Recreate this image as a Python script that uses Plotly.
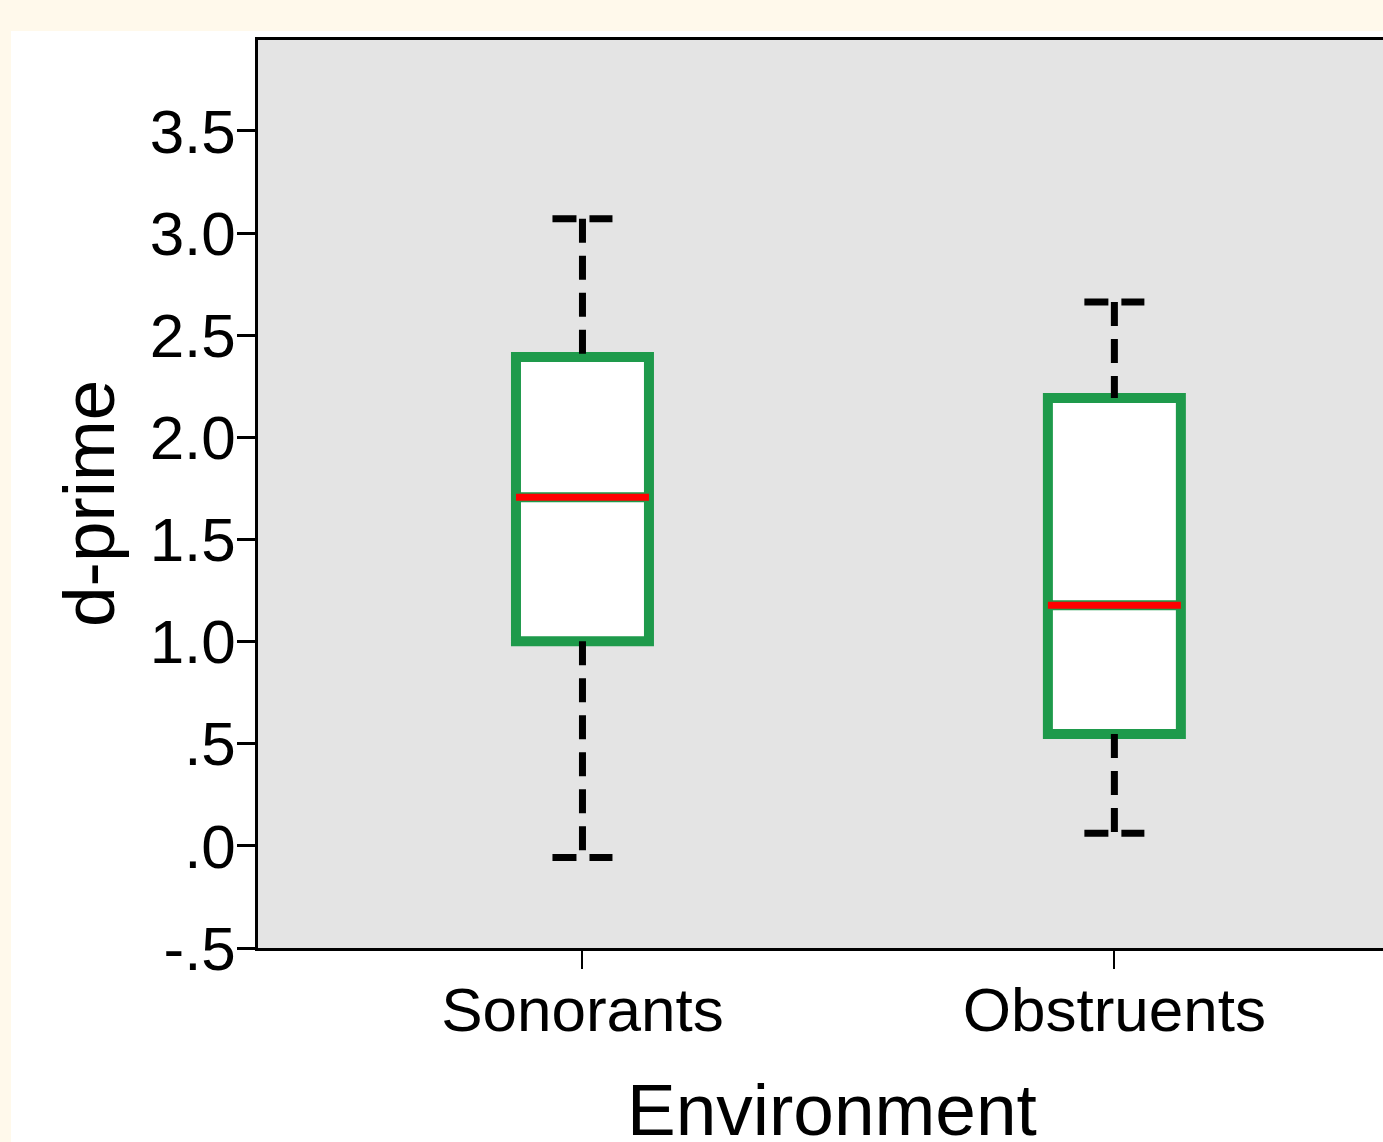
import plotly.graph_objects as go

# ---- data ----
categories = ["Sonorants", "Obstruents"]
lower_whisker = [-0.057, 0.062]
q1_values = [1.002, 0.547]
median_values = [1.706, 1.178]
q3_values = [2.393, 2.192]
upper_whisker = [3.070, 2.662]

y_tick_values = [-0.5, 0.0, 0.5, 1.0, 1.5, 2.0, 2.5, 3.0, 3.5]
y_tick_labels = ["-.5", ".0", ".5", "1.0", "1.5", "2.0", "2.5", "3.0", "3.5"]

x_title = "Environment"
y_title = "d-prime"

# ---- style ----
FONT = "Liberation Sans, Arial, sans-serif"
GREEN = "#1e9a4b"
RED = "#ff0000"
GRAY = "#e4e4e4"
CREAM = "#fff9eb"
BOX_W = 0.25
CAP_HALF = 0.0564

positions = list(range(len(categories)))

fig = go.Figure()

# whiskers (dashed black) and caps
for i, pos in enumerate(positions):
    for ya, yb in ((q1_values[i], lower_whisker[i]), (upper_whisker[i], q3_values[i])):
        fig.add_trace(go.Scatter(
            x=[pos, pos], y=[ya, yb], mode="lines",
            line=dict(color="black", width=7, dash="24px,13px"),
            showlegend=False, hoverinfo="skip"))
    for yc in (lower_whisker[i], upper_whisker[i]):
        fig.add_trace(go.Scatter(
            x=[pos - CAP_HALF, pos + CAP_HALF], y=[yc, yc], mode="lines",
            line=dict(color="black", width=7, dash="24px,13px"),
            showlegend=False, hoverinfo="skip"))

# boxes
for i, pos in enumerate(positions):
    fig.add_trace(go.Box(
        x=[pos], q1=[q1_values[i]], median=[median_values[i]], q3=[q3_values[i]],
        lowerfence=[q1_values[i]], upperfence=[q3_values[i]],
        width=BOX_W, whiskerwidth=0,
        fillcolor="white", line=dict(color=GREEN, width=10),
        showlegend=False, hoverinfo="skip", name=categories[i]))

# medians (red)
for i, pos in enumerate(positions):
    fig.add_trace(go.Scatter(
        x=[pos - BOX_W / 2, pos + BOX_W / 2], y=[median_values[i], median_values[i]],
        mode="lines", line=dict(color=RED, width=7),
        showlegend=False, hoverinfo="skip"))

W, H = 1383, 1142
ml, mr, mt, mb = 258, 0, 40, 194
pw, ph = W - ml - mr, H - mt - mb

def px(xp):
    return (xp - ml) / pw

def py(yp):
    return (H - mb - yp) / ph

shapes = [
    dict(type="rect", xref="paper", yref="paper", x0=px(0), x1=px(W), y0=py(31), y1=py(-2),
         fillcolor=CREAM, line=dict(width=0), layer="below"),
    dict(type="rect", xref="paper", yref="paper", x0=px(0), x1=px(11), y0=py(H + 2), y1=py(-2),
         fillcolor=CREAM, line=dict(width=0), layer="below"),
]

annotations = [
    dict(text=x_title, xref="paper", yref="paper", x=px(832), y=py(1109),
         xanchor="center", yanchor="middle", showarrow=False,
         font=dict(size=73, family=FONT, color="black")),
    dict(text=y_title, xref="paper", yref="paper", x=px(88), y=py(504),
         xanchor="center", yanchor="middle", showarrow=False, textangle=-90,
         font=dict(size=73, family=FONT, color="black")),
]

fig.update_layout(
    width=W, height=H,
    margin=dict(l=ml, r=mr, t=mt, b=mb, pad=0),
    paper_bgcolor="white", plot_bgcolor=GRAY,
    font=dict(family=FONT, color="black"),
    shapes=shapes,
    annotations=annotations,
    showlegend=False,
    xaxis=dict(
        range=[-0.61, 1.505], tickmode="array", tickvals=positions, ticktext=categories,
        showgrid=False, zeroline=False, showline=True, linecolor="black", linewidth=2.5,
        mirror=True, ticks="outside", ticklen=18, tickwidth=2, tickcolor="black",
        tickfont=dict(size=62, family=FONT), ticklabelstandoff=-12,
        automargin=False,
    ),
    yaxis=dict(
        range=[-0.5, 3.945], tickmode="array", tickvals=y_tick_values, ticktext=y_tick_labels,
        showgrid=False, zeroline=False, showline=True, linecolor="black", linewidth=2.5,
        ticks="outside", ticklen=18, tickwidth=2.5, tickcolor="black",
        tickfont=dict(size=62, family=FONT), ticklabelstandoff=-11,
        automargin=False,
    ),
)

fig.write_html(
    "out.html",
    config={"displayModeBar": False},
    post_script="document.body.style.margin='0px';document.body.style.overflow='hidden';",
)
